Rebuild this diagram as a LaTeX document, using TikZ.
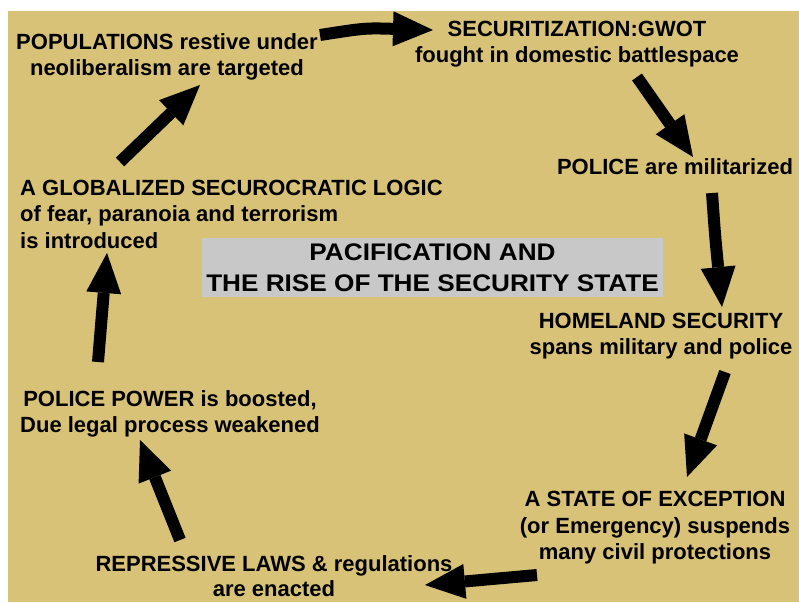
\documentclass[tikz,border=0pt]{standalone}
\usepackage{fontspec}
\setmainfont{Liberation Sans}
\usetikzlibrary{arrows.meta}
\definecolor{bgtan}{RGB}{216,194,120}
\definecolor{titlegray}{RGB}{200,200,200}
\begin{document}
\begin{tikzpicture}[x=1pt,y=-1pt,
  lbl/.style={font=\bfseries\fontsize{22}{26.5}\selectfont, align=center, inner sep=0pt, text=black},
  bigarrow/.style={line width=12pt, -{Triangle[length=40pt,width=35pt,line width'=0pt]}}]
\useasboundingbox (0,0) rectangle (799,602);
\fill[white] (0,0) rectangle (799,602);
\fill[bgtan] (8,11) rectangle (799,602);

% title
\node[fill=titlegray, minimum width=461pt, minimum height=59pt, inner sep=0pt,
      font=\bfseries\fontsize{24}{31.5}\selectfont, align=center] (title) at (432.5,267.5)
  {\scalebox{1.09}[1]{PACIFICATION AND}\\\scalebox{1.09}[1]{THE RISE OF THE SECURITY STATE}};

% statements
\node[lbl] (pop) at (167,57) {POPULATIONS restive under\\neoliberalism are targeted};
\node[lbl] (sec) at (577,44) {SECURITIZATION:GWOT\\fought in domestic battlespace};
\node[lbl] (pol) at (675,167) {POLICE are militarized};
\node[lbl] (home) at (661,336) {HOMELAND SECURITY\\spans military and police};
\node[lbl] (exc) at (655,528) {A STATE OF EXCEPTION\\(or Emergency) suspends\\many civil protections};
\node[lbl, font=\bfseries\fontsize{22}{25}\selectfont] (rep) at (274,576) {REPRESSIVE LAWS \& regulations\\are enacted};
\node[lbl] (pow) at (170,414) {POLICE POWER is boosted,\\Due legal process weakened};
\node[lbl, align=left, anchor=west] (glob) at (20,214) {A GLOBALIZED SECUROCRATIC LOGIC\\of fear, paranoia and terrorism\\is introduced};

% arrow ends
\coordinate (a1s) at (320,35);  \coordinate (a1e) at (433,30);
\coordinate (a2s) at (637,77);  \coordinate (a2e) at (693,157);
\coordinate (a3s) at (712,193); \coordinate (a3e) at (722,307);
\coordinate (a4s) at (725,372); \coordinate (a4e) at (687,477);
\coordinate (a5s) at (537,575); \coordinate (a5e) at (425,585);
\coordinate (a6s) at (180,540); \coordinate (a6e) at (140,440);
\coordinate (a7s) at (98,362);  \coordinate (a7e) at (107,253);
\coordinate (a8s) at (120,162); \coordinate (a8e) at (200,85);

\draw[bigarrow] (a1s) .. controls (365,28) .. (a1e);
\draw[bigarrow] (a2s) -- (a2e);
\draw[bigarrow] (a3s) .. controls (715,235) .. (a3e);
\draw[bigarrow] (a4s) -- (a4e);
\draw[bigarrow] (a5s) -- (a5e);
\draw[bigarrow] (a6s) -- (a6e);
\draw[bigarrow] (a7s) -- (a7e);
\draw[bigarrow] (a8s) -- (a8e);
\end{tikzpicture}
\end{document}
